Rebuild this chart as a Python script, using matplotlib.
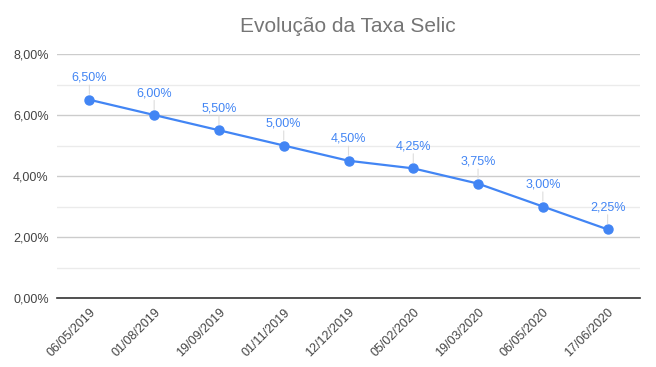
import matplotlib
matplotlib.use("Agg")
import matplotlib.pyplot as plt
from matplotlib.ticker import MultipleLocator, FuncFormatter

dates = ["06/05/2019", "01/08/2019", "19/09/2019", "01/11/2019", "12/12/2019",
         "05/02/2020", "19/03/2020", "06/05/2020", "17/06/2020"]
selic = [6.50, 6.00, 5.50, 5.00, 4.50, 4.25, 3.75, 3.00, 2.25]
title = "Evolução da Taxa Selic"

plt.rcParams['font.family'] = ['Liberation Sans', 'DejaVu Sans']

fig = plt.figure(figsize=(6.56, 3.67), dpi=100)
ax = fig.add_axes([57/656, 1-298/367, (640-57)/656, (298-54)/367])

blue = "#4285F4"
x = list(range(len(dates)))
ax.plot(x, selic, color=blue, lw=1.6, marker='o', ms=6.5, zorder=3)

def fmt(v):
    return f"{v:.2f}".replace(".", ",") + "%"

for xi, v in zip(x, selic):
    ax.annotate(fmt(v), (xi, v), xytext=(0, 11.5), textcoords='offset points',
                ha='center', va='bottom', color=blue, fontsize=9)
    ax.annotate("", (xi, v), xytext=(0, 11.5), textcoords='offset points',
                arrowprops=dict(arrowstyle='-', color='#dddddd', lw=0.8,
                                shrinkA=1, shrinkB=4))

ax.set_xlim(-0.5, len(dates) - 0.5)
ax.set_ylim(0, 8)
ax.yaxis.set_major_locator(MultipleLocator(2))
ax.yaxis.set_minor_locator(MultipleLocator(1))
ax.yaxis.set_major_formatter(FuncFormatter(lambda v, p: fmt(v)))
ax.grid(which='major', axis='y', color='#cccccc', lw=1)
ax.grid(which='minor', axis='y', color='#ebebeb', lw=1)
ax.set_axisbelow(True)
for s in ['top', 'right', 'left']:
    ax.spines[s].set_visible(False)
ax.spines['bottom'].set_color('#333333')
ax.spines['bottom'].set_linewidth(1.2)
ax.tick_params(axis='both', which='both', length=0, labelsize=9, colors='#444444')
ax.tick_params(axis='y', pad=6)
ax.set_xticks(x)
ax.set_xticklabels(dates, rotation=45, ha='right', rotation_mode='anchor')
ax.tick_params(axis='x', pad=6)

fig.text(348/656, 1-26/367, title, ha='center', va='center', fontsize=15, color='#757575')

fig.savefig("out.png", dpi=100)
